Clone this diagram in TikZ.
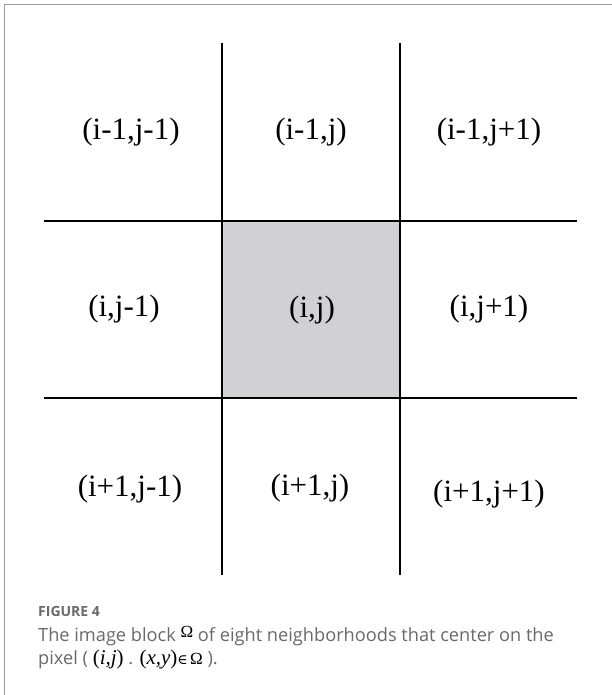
\documentclass[tikz,border=0pt]{standalone}
\usepackage{fontspec}
\setmainfont{Liberation Serif}
\newfontfamily\capfont{Open Sans}
\newfontfamily\serifmath{Liberation Serif}
\newfontfamily\symfont{DejaVu Serif}
\definecolor{framegray}{HTML}{9A9A9A}
\definecolor{cellgray}{HTML}{D1D0D2}
\definecolor{captiongray}{HTML}{6A6A6A}
\begin{document}
\begin{tikzpicture}[x=1pt,y=-1pt,
  gridline/.style={line width=2.8pt,black},
  celllabel/.style={font=\fontsize{31}{33}\selectfont,inner sep=0pt,anchor=center},
  captext/.style={font=\capfont\fontsize{18.2}{22}\selectfont,text=captiongray,anchor=base west,inner sep=0pt}]
\useasboundingbox (0,0) rectangle (612,695);
\fill[white] (0,0) rectangle (612,695);
% frame
\draw[framegray,line width=1.6pt] (4.5,695) -- (4.5,4.5) -- (612,4.5);
% shaded centre cell
\coordinate (c1) at (222,221);
\coordinate (c2) at (400,398);
\fill[cellgray] (c1) rectangle (c2);
% grid
\coordinate (v1t) at (222,43);  \coordinate (v1b) at (222,575);
\coordinate (v2t) at (400,43);  \coordinate (v2b) at (400,575);
\coordinate (h1l) at (44,221);  \coordinate (h1r) at (577,221);
\coordinate (h2l) at (44,398);  \coordinate (h2r) at (577,398);
\draw[gridline] (v1t) -- (v1b);
\draw[gridline] (v2t) -- (v2b);
\draw[gridline] (h1l) -- (h1r);
\draw[gridline] (h2l) -- (h2r);
% labels
\node[celllabel] (n11) at (131,132) {(i-1,j-1)};
\node[celllabel] (n12) at (311,132) {(i-1,j)};
\node[celllabel] (n13) at (489,132) {(i-1,j+1)};
\node[celllabel] (n21) at (124,309) {(i,j-1)};
\node[celllabel] (n22) at (312,310) {(i,j)};
\node[celllabel] (n23) at (489,309) {(i,j+1)};
\node[celllabel] (n31) at (130,489) {(i+1,j-1)};
\node[celllabel] (n32) at (310,488) {(i+1,j)};
\node[celllabel] (n33) at (489,494) {(i+1,j+1)};
% caption
\node[anchor=base west,inner sep=0pt,text=captiongray,font=\capfont\fontseries{sb}\bfseries\fontsize{14}{16}\selectfont] (fig) at (38,616) {FIGURE 4};
\node[captext] (cap1) at (38,641) {The image block \raisebox{4pt}{\serifmath\fontsize{17}{17}\selectfont\textcolor{black}{Ω}} of eight neighborhoods that center on the};
\node[captext] (cap2) at (38,664) {pixel ( {\serifmath\color{black}\fontsize{21}{21}\selectfont(\textit{i,j})} . {\serifmath\color{black}\fontsize{21}{21}\selectfont(\textit{x,y})\fontsize{14}{14}\selectfont{\symfont∈}\,\fontsize{17}{17}\selectfont Ω} ).};
\end{tikzpicture}
\end{document}
